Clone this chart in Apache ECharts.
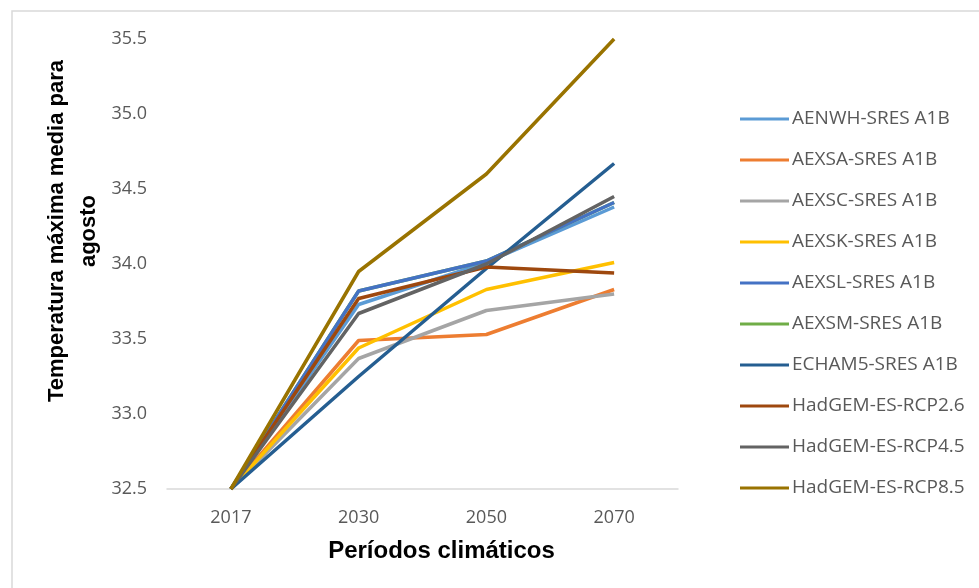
<!DOCTYPE html>
<html>
<head>
<meta charset="utf-8">
<script src="https://cdn.jsdelivr.net/npm/echarts@6/dist/echarts.min.js"></script>
<style>
  html, body { margin: 0; padding: 0; background: #fff; }
  #chart { width: 979px; height: 588px; }
</style>
</head>
<body>
<div id="chart"></div>
<script>
// periodos climaticos
var periods = ['2017', '2030', '2050', '2070'];

// temperatura maxima media para agosto, por modelo
var aenwh = [32.5, 33.73, 34.01, 34.38];
var aexsa = [32.5, 33.49, 33.53, 33.83];
var aexsc = [32.5, 33.37, 33.69, 33.80];
var aexsk = [32.5, 33.44, 33.83, 34.01];
var aexsl = [32.5, 33.82, 34.02, 34.41];
var aexsm = [32.5, 33.82, 34.02, 34.41];
var echam5 = [32.5, 33.25, 33.97, 34.67];
var rcp26 = [32.5, 33.77, 33.98, 33.94];
var rcp45 = [32.5, 33.67, 34.00, 34.45];
var rcp85 = [32.5, 33.95, 34.60, 35.50];

var yTicks = [32.5, 33.0, 33.5, 34.0, 34.5, 35.0, 35.5];

// orden de dibujo (AEXSM queda debajo de AEXSL, como en el original)
var seriesList = [
  { name: 'AENWH-SRES A1B', data: aenwh, color: '#5B9BD5' },
  { name: 'AEXSA-SRES A1B', data: aexsa, color: '#ED7D31' },
  { name: 'AEXSC-SRES A1B', data: aexsc, color: '#A5A5A5' },
  { name: 'AEXSK-SRES A1B', data: aexsk, color: '#FFC000' },
  { name: 'AEXSM-SRES A1B', data: aexsm, color: '#70AD47' },
  { name: 'AEXSL-SRES A1B', data: aexsl, color: '#4472C4' },
  { name: 'ECHAM5-SRES A1B', data: echam5, color: '#255E91' },
  { name: 'HadGEM-ES-RCP2.6', data: rcp26, color: '#9E480E' },
  { name: 'HadGEM-ES-RCP4.5', data: rcp45, color: '#636363' },
  { name: 'HadGEM-ES-RCP8.5', data: rcp85, color: '#997300' }
];

var legendOrder = ['AENWH-SRES A1B', 'AEXSA-SRES A1B', 'AEXSC-SRES A1B', 'AEXSK-SRES A1B',
  'AEXSL-SRES A1B', 'AEXSM-SRES A1B', 'ECHAM5-SRES A1B', 'HadGEM-ES-RCP2.6',
  'HadGEM-ES-RCP4.5', 'HadGEM-ES-RCP8.5'];

var myChart = echarts.init(document.getElementById('chart'));

myChart.setOption({
  animation: false,
  color: seriesList.map(function (s) { return s.color; }),
  textStyle: { fontFamily: 'Open Sans, Liberation Sans, sans-serif' },
  graphic: [{
    type: 'rect',
    shape: { x: 12, y: 11, width: 990, height: 600 },
    style: { fill: 'none', stroke: '#d9d9d9', lineWidth: 1.5 },
    silent: true
  }, {
    // titulo del eje Y (dos lineas, rotado)
    type: 'text',
    x: 73,
    y: 231,
    rotation: Math.PI / 2,
    style: {
      text: 'Temperatura máxima media para\nagosto',
      fontFamily: 'Liberation Sans, Arial, sans-serif',
      fontWeight: 'bold',
      fontSize: 22,
      lineHeight: 32,
      fill: '#000',
      align: 'center',
      verticalAlign: 'middle'
    },
    silent: true
  }],
  grid: { left: 167, right: 301, top: 39, bottom: 99 },
  legend: {
    orient: 'vertical',
    left: 735,
    top: 102,
    data: legendOrder,
    icon: 'rect',
    itemWidth: 49,
    itemHeight: 3,
    itemGap: 17,
    textStyle: { color: '#595959', fontSize: 19, lineHeight: 24, padding: [0, 0, 0, -2] }
  },
  xAxis: {
    type: 'category',
    data: periods,
    boundaryGap: true,
    name: 'Períodos climáticos',
    nameLocation: 'middle',
    nameGap: 50,
    nameTextStyle: {
      fontFamily: 'Liberation Sans, Arial, sans-serif',
      fontWeight: 'bold',
      fontSize: 24,
      color: '#000',
      padding: [0, 0, 0, 38]
    },
    axisLine: { lineStyle: { color: '#d9d9d9', width: 1.5 } },
    axisTick: { show: false },
    axisLabel: { color: '#595959', fontSize: 18, margin: 20 }
  },
  yAxis: {
    type: 'value',
    min: 32.5,
    max: 35.5,
    interval: 0.5,
    axisLine: { show: false },
    axisTick: { show: false },
    splitLine: { show: false },
    axisLabel: {
      color: '#595959',
      fontSize: 18,
      margin: 20,
      formatter: function (v) {
        return yTicks.indexOf(v) >= 0 ? v.toFixed(1) : '';
      }
    }
  },
  series: seriesList.map(function (s) {
    return {
      name: s.name,
      type: 'line',
      data: s.data,
      showSymbol: false,
      symbol: 'none',
      lineStyle: { width: 3.5, color: s.color },
      itemStyle: { color: s.color }
    };
  })
});
</script>
</body>
</html>
